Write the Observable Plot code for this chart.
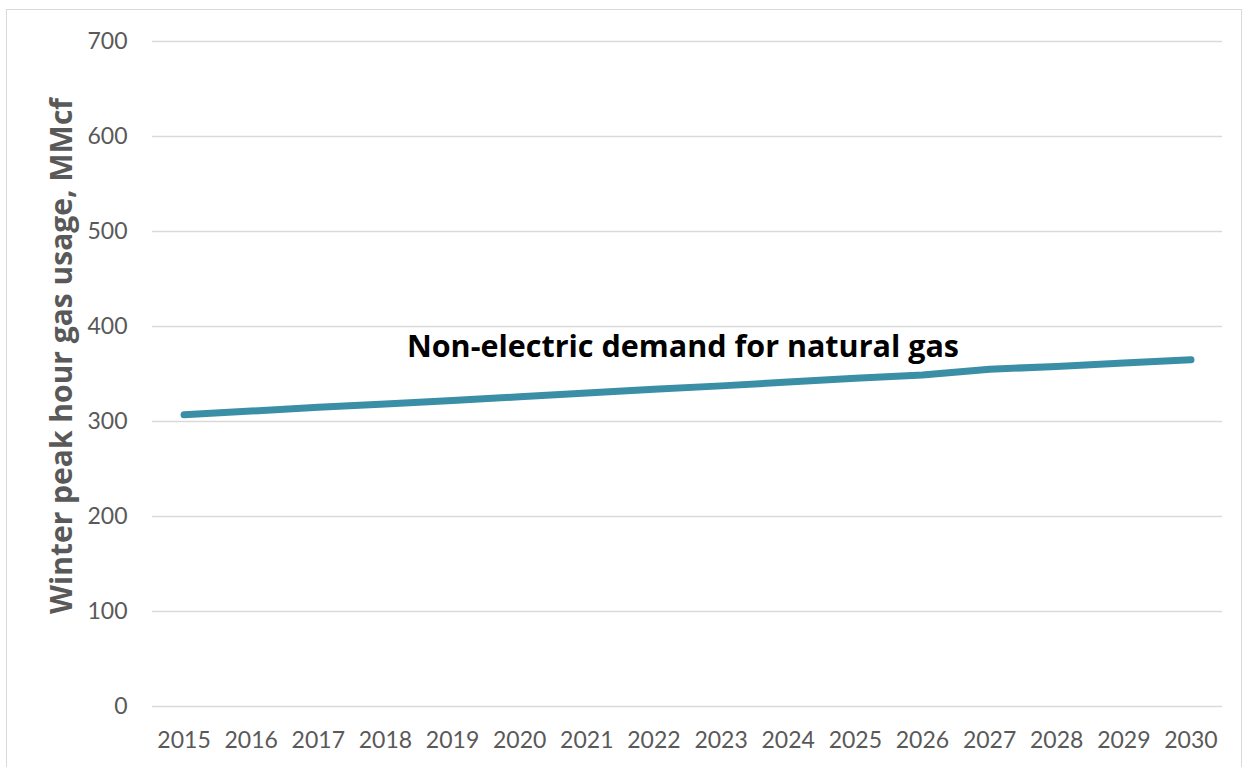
<!DOCTYPE html>
<html>
<head>
<meta charset="utf-8">
<script src="https://cdn.jsdelivr.net/npm/d3@7"></script>
<script src="https://cdn.jsdelivr.net/npm/@observablehq/plot@0.6"></script>
<style>
  html, body { margin: 0; padding: 0; background: #fff; overflow: hidden; }
  #frame { position: absolute; left: 6px; top: 9px; width: 1236px; height: 800px; border: 1px solid #d9d9d9; box-sizing: border-box; }
  #chart { position: absolute; left: 0; top: 0; }
</style>
</head>
<body>
<div id="frame"></div>
<div id="chart"></div>
<script>
const years = [2015, 2016, 2017, 2018, 2019, 2020, 2021, 2022, 2023, 2024, 2025, 2026, 2027, 2028, 2029, 2030];
const demand = [307, 311, 315, 318.5, 322, 326, 330, 334, 337.5, 341.5, 345.5, 349, 355, 358, 361.5, 365];
const yTicks = [0, 100, 200, 300, 400, 500, 600, 700];
const seriesLabel = "Non-electric demand for natural gas";
const yTitle = "Winter peak hour gas usage, MMcf";

const data = years.map((y, i) => ({year: y, value: demand[i]}));

const plot = Plot.plot({
  width: 1249,
  height: 767,
  marginLeft: 152,
  marginRight: 27,
  marginTop: 41,
  marginBottom: 61,
  style: {fontFamily: "Lato, 'Open Sans', sans-serif", background: "transparent", overflow: "visible"},
  x: {type: "point", domain: years, padding: 0.47, round: false, label: null},
  y: {domain: [0, 700], ticks: yTicks, label: null},
  marks: [
    Plot.gridY(yTicks, {stroke: "#d9d9d9", strokeOpacity: 1, strokeWidth: 1.3}),
    Plot.axisY(yTicks, {tickSize: 0, tickPadding: 25, fontSize: 23, fill: "#595959", label: null}),
    Plot.axisX(years, {tickSize: 0, tickPadding: 25, fontSize: 23, fill: "#595959", label: null, tickFormat: d => String(d)}),
    Plot.line(data, {x: "year", y: "value", stroke: "#3a8fa6", strokeWidth: 7, strokeLinecap: "round", strokeLinejoin: "round"}),
    Plot.text([{year: 2022, value: 367.5}], {x: "year", y: "value", text: () => seriesLabel, dx: 29, lineAnchor: "bottom", fontSize: 30.5, fontWeight: "bold", fontFamily: "'Open Sans', Lato, sans-serif", fill: "#000"}),
    Plot.text([yTitle], {frameAnchor: "left", text: d => d, rotate: -90, textAnchor: "middle", dx: -90, dy: -18, fontSize: 30, fontWeight: "bold", fontFamily: "'Open Sans', Lato, sans-serif", fill: "#595959"})
  ]
});
document.getElementById("chart").appendChild(plot);
</script>
</body>
</html>
